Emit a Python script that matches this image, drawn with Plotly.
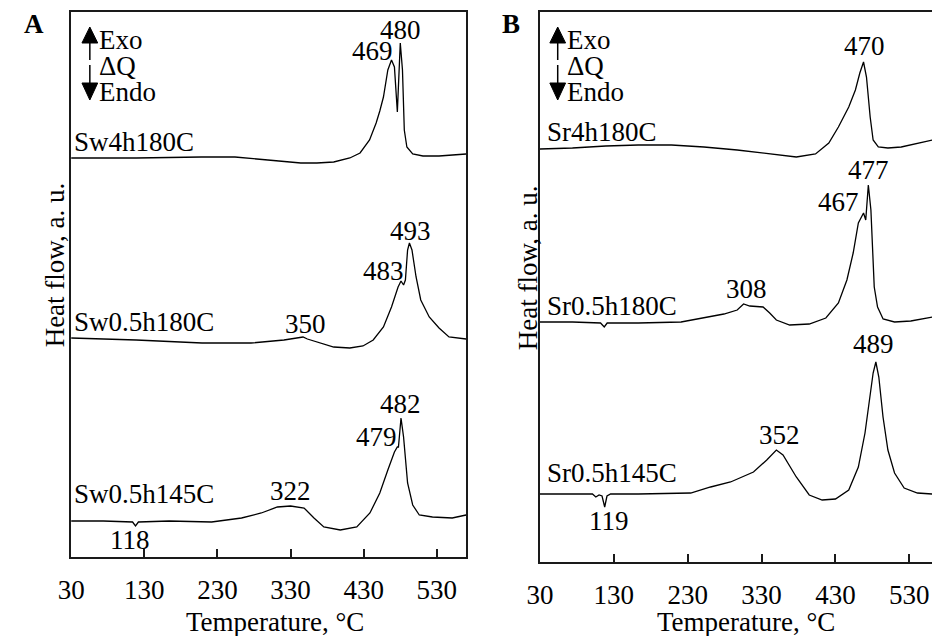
import plotly.graph_objects as go

# ---------------- data (temperature in deg C, heat flow in arbitrary units) ----------------
# Panel A
a1_T = [30, 119, 208, 254, 299, 344, 366, 389, 411, 425, 438, 447, 452, 457, 463, 468, 472, 476, 480, 483, 485.5, 489, 497, 511, 533, 570]
a1_Q = [399, 399, 400, 400, 397, 394, 394, 395, 399, 404, 417, 434, 446, 460, 487, 497, 490, 445, 514, 487, 427, 410, 403, 401, 401, 403]

a2_T = [30, 119, 209, 276, 321, 340, 347, 353, 371, 389, 411, 429, 443, 457, 468, 477, 481, 484.5, 487, 490, 492.5, 496, 501.6, 508, 519.6, 533, 546.6, 570]
a2_Q = [219, 217, 214, 214, 217, 219, 220, 218, 214, 210, 209, 211, 217, 230, 250, 270, 276, 272, 277, 307, 314, 307, 280, 257, 240, 229, 220, 218]

a3_T = [30, 74, 114, 118, 122, 164, 222, 263, 290, 312, 330, 348.5, 362, 375.5, 398, 420.5, 438.5, 452, 463, 472, 476, 477.5, 481, 484.5, 490, 497, 506, 524, 551, 570]
a3_Q = [36, 36, 35, 31, 35, 36, 35, 39, 44, 50, 51, 49, 39, 30, 27, 30, 44, 64, 87, 105, 110, 110, 139, 120, 74, 52, 42, 40, 39, 42]

# Panel B
b1_T = [30, 74, 119, 163, 208, 252, 297, 341, 377, 403, 421, 434, 448, 457, 463, 468, 472, 477, 481, 488, 501, 519, 541, 561]
b1_Q = [413, 414, 416, 417, 417, 415, 412, 408, 405, 408, 419, 435, 455, 472, 489, 500, 485, 445, 422, 415, 414, 415, 419, 422]

b2_T = [30, 74, 112, 117, 121, 163, 221, 252, 279, 297, 305.6, 314, 332, 341, 350, 368, 394.5, 417, 434, 445.5, 454, 461, 468, 471, 474.5, 478, 482.5, 487, 494.5, 510, 532, 561]
b2_Q = [240, 240, 239, 235, 239, 239, 240, 244, 248, 252, 258, 256, 255, 249, 242, 237, 238, 244, 259, 282, 309, 339, 349, 342, 377, 352, 275, 255, 243, 240, 241, 245]

b3_T = [30, 74, 101, 105.6, 110, 114, 117.6, 120.7, 125.6, 163, 234, 261, 288, 319, 337, 350, 359, 377, 394.5, 412, 430, 448, 461, 470, 476.7, 481, 484.7, 488.7, 494.4, 501, 510, 523, 541, 561]
b3_Q = [68, 68, 68, 65, 67, 66, 55, 66, 68, 68, 69, 75, 80, 90, 102, 112, 107, 85, 67, 62, 63, 72, 95, 129, 165, 189, 200, 185, 145, 112, 89, 74, 69, 68]

# sample names and peak labels: (text, T, Q)
a_names = [("Sw4h180C", 415), ("Sw0.5h180C", 235), ("Sw0.5h145C", 63)]
a_peaks = [("469", 442, 506), ("480", 480, 527), ("350", 350, 233), ("483", 457, 286),
           ("493", 493.5, 326), ("118", 110, 17), ("322", 330, 66), ("479", 447.6, 120), ("482", 480, 153)]
b_names = [("Sr4h180C", 430), ("Sr0.5h180C", 256), ("Sr0.5h145C", 89)]
b_peaks = [("470", 468.7, 516), ("477", 475, 392), ("467", 434, 360), ("308", 310, 273),
           ("489", 482, 218), ("352", 354, 127), ("119", 123, 41)]

tick_vals = [30, 130, 230, 330, 430, 530]
tick_text = ["30", "130", "230", "330", "430", "530"]

# ---------------- figure ----------------
W, H = 932, 636
FONT = "Liberation Serif"
FS = 27


def P(x, y):
    return x / W, 1 - y / H


fig = go.Figure()
line = dict(color="black", width=1.3)
for T, Q in [(a1_T, a1_Q), (a2_T, a2_Q), (a3_T, a3_Q)]:
    fig.add_trace(go.Scatter(x=T, y=Q, mode="lines", line=line, xaxis="x", yaxis="y", showlegend=False))
for T, Q in [(b1_T, b1_Q), (b2_T, b2_Q), (b3_T, b3_Q)]:
    fig.add_trace(go.Scatter(x=T, y=Q, mode="lines", line=line, xaxis="x2", yaxis="y2", showlegend=False))

axcol = "#1a1a1a"
xcommon = dict(tickmode="array", tickvals=tick_vals, ticktext=tick_text, ticks="inside", ticklen=8,
               tickwidth=1.5, tickcolor=axcol, showline=True, linecolor=axcol, linewidth=1.5,
               showgrid=False, zeroline=False, ticklabelstandoff=8,
               tickfont=dict(family=FONT, size=FS, color="black"))
ycommon = dict(showline=True, linecolor=axcol, linewidth=1.5, showgrid=False, zeroline=False,
               ticks="", showticklabels=False)

fig.update_layout(
    width=W, height=H, margin=dict(l=0, r=0, t=0, b=0),
    paper_bgcolor="white", plot_bgcolor="white",
    font=dict(family=FONT, size=FS, color="black"),
    xaxis=dict(domain=[58 / W, 459 / W], range=[30, 570], anchor="y", mirror=True, **xcommon),
    yaxis=dict(domain=[(H - 557) / H, (H - 12) / H], range=[0, 545], anchor="x", mirror=True, **ycommon),
    xaxis2=dict(domain=[534 / W, 1.0], range=[30, 560.7], anchor="y2", mirror=True, **xcommon),
    yaxis2=dict(domain=[(H - 562) / H, (H - 12) / H], range=[0, 550], anchor="x2", mirror=False, **ycommon),
)

ann = []
tf = dict(family=FONT, size=FS, color="black")
for name, q in a_names:
    ann.append(dict(x=31.5, y=q, xref="x", yref="y", text=name, showarrow=False, xanchor="left", yanchor="middle", font=tf))
for txt, t, q in a_peaks:
    ann.append(dict(x=t, y=q, xref="x", yref="y", text=txt, showarrow=False, xanchor="center", yanchor="middle", font=tf))
for name, q in b_names:
    ann.append(dict(x=37.0, y=q, xref="x2", yref="y2", text=name, showarrow=False, xanchor="left", yanchor="middle", font=tf))
for txt, t, q in b_peaks:
    ann.append(dict(x=t, y=q, xref="x2", yref="y2", text=txt, showarrow=False, xanchor="center", yanchor="middle", font=tf))

# axis titles, panel letters
for cx, cy, txt, rot in [(265, 622, "Temperature, °C", 0), (743, 622, "Temperature, °C", 0),
                         (42, 265, "Heat flow, a. u.", -90), (522, 268, "Heat flow, a. u.", -90),
                         (20, 24, "<b>A</b>", 0), (505, 24, "<b>B</b>", 0)]:
    px, py = P(cx, cy)
    ann.append(dict(x=px, y=py, xref="paper", yref="paper", text=txt, showarrow=False, textangle=rot,
                    xanchor="center", yanchor="middle", font=tf))

# Exo / Endo legend with arrows
shapes = []
for ax_x, tx in [(77, 84), (552, 559)]:
    for txt, cy in [("Exo", 40), ("ΔQ", 66), ("Endo", 91.5)]:
        px, py = P(tx, cy)
        ann.append(dict(x=px, y=py, xref="paper", yref="paper", text=txt, showarrow=False,
                        xanchor="left", yanchor="middle", font=tf))
    # up arrow
    p1 = P(ax_x, 27); p2 = P(ax_x - 8, 43); p3 = P(ax_x + 8, 43)
    shapes.append(dict(type="path", xref="paper", yref="paper",
                       path=f"M{p1[0]},{p1[1]} L{p2[0]},{p2[1]} L{p3[0]},{p3[1]} Z",
                       fillcolor="black", line=dict(color="black", width=1)))
    s1 = P(ax_x, 43); s2 = P(ax_x, 60)
    shapes.append(dict(type="line", xref="paper", yref="paper", x0=s1[0], y0=s1[1], x1=s2[0], y1=s2[1],
                       line=dict(color="black", width=1.5)))
    # down arrow
    s1 = P(ax_x, 65); s2 = P(ax_x, 84)
    shapes.append(dict(type="line", xref="paper", yref="paper", x0=s1[0], y0=s1[1], x1=s2[0], y1=s2[1],
                       line=dict(color="black", width=1.5)))
    p1 = P(ax_x, 100); p2 = P(ax_x - 8, 83); p3 = P(ax_x + 8, 83)
    shapes.append(dict(type="path", xref="paper", yref="paper",
                       path=f"M{p1[0]},{p1[1]} L{p2[0]},{p2[1]} L{p3[0]},{p3[1]} Z",
                       fillcolor="black", line=dict(color="black", width=1)))

fig.update_layout(annotations=ann, shapes=shapes)
fig.write_html("out.html", post_script="document.body.style.margin='0px';")
